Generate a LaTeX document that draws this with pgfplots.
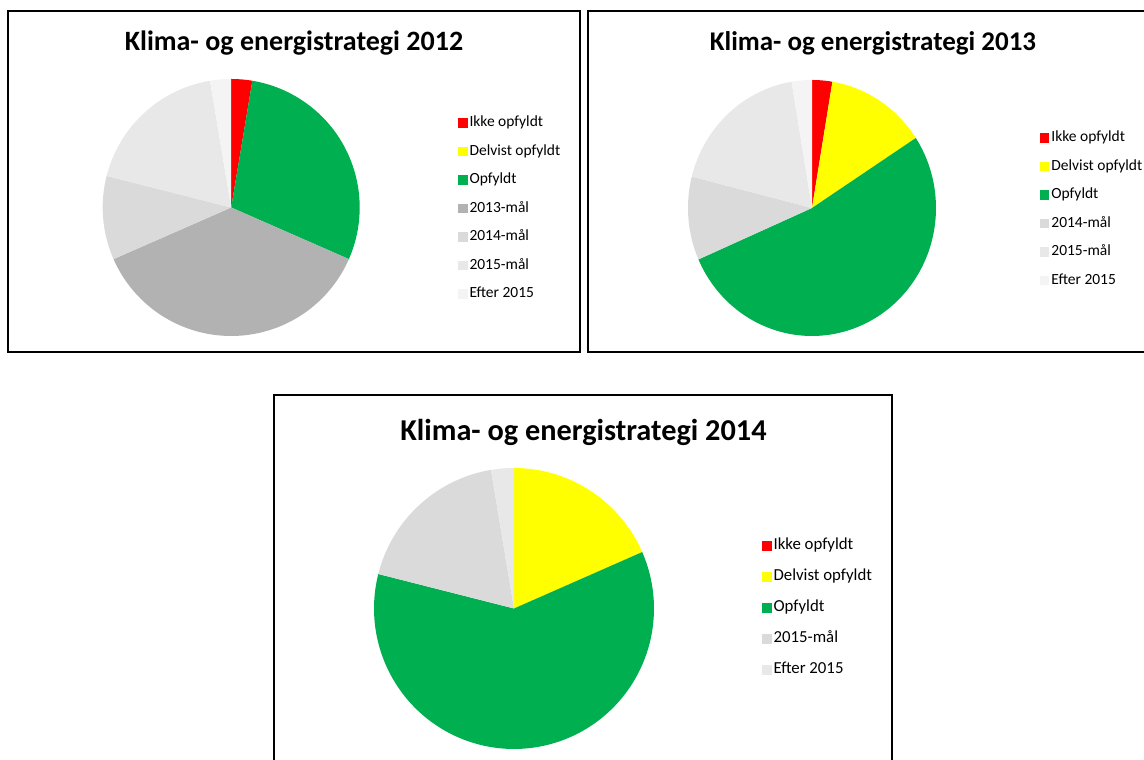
\documentclass[border=0pt]{standalone}
\usepackage{pgfplots}
\pgfplotsset{compat=1.18}
\usepackage{pgfplotstable}
\usepackage{fontspec}
\setmainfont{Carlito}

\definecolor{cRed}{HTML}{FF0000}
\definecolor{cYellow}{HTML}{FFFF00}
\definecolor{cGreen}{HTML}{00B050}
\definecolor{cGrayA}{HTML}{B2B2B2}
\definecolor{cGrayB}{HTML}{DADADA}
\definecolor{cGrayC}{HTML}{E8E8E8}
\definecolor{cGrayD}{HTML}{F4F4F4}

\pgfplotstableread{
label count
Ikke 1
Delvist 0
Opfyldt 11
M2013 14
M2014 4
M2015 7
Efter 1
}\dataA
\pgfplotstableread{
label count
Ikke 1
Delvist 5
Opfyldt 20
M2014 4
M2015 7
Efter 1
}\dataB
\pgfplotstableread{
label count
Ikke 0
Delvist 7
Opfyldt 23
M2015 7
Efter 1
}\dataC

\newcommand\piesum[1]{%
  \gdef\total{0}%
  \pgfplotstablegetrowsof{#1}\pgfmathtruncatemacro\nrows{\pgfplotsretval-1}%
  \foreach \r in {0,...,\nrows}{%
    \pgfplotstablegetelem{\r}{count}\of#1%
    \pgfmathsetmacro\tmp{\total+\pgfplotsretval}\global\let\total\tmp}%
  \gdef\cum{0}}

\newcommand\slice[4]{%
  \pgfplotstablegetelem{#2}{count}\of#1%
  \let\cnt\pgfplotsretval
  \pgfmathsetmacro\sA{360*\cum/\total}%
  \pgfmathsetmacro\newcum{\cum+\cnt}%
  \global\let\cum\newcum
  \pgfmathsetmacro\sB{360*\cum/\total}%
  \ifdim\cnt pt>0pt
    \edef\doslice{\noexpand\addplot[fill=#3, draw=none, domain=\sA:\sB, samples=120] ({sin(x)},{cos(x)}) -- (axis cs:0,0) -- cycle;}%
    \doslice
  \else
    \addlegendimage{fill=#3, draw=none}%
  \fi
  \addlegendentry{#4}}

\pgfplotsset{
  pie/.style={anchor=center, scale only axis, xmin=-1, xmax=1, ymin=-1, ymax=1,
    hide axis, clip=false,
    legend image code/.code={\fill[##1] (0pt,-4.5pt) rectangle (9.5pt,5pt);},
    legend cell align=left,
    legend style={draw=none, fill=none, inner sep=0pt, outer sep=0pt,
      anchor=west, column sep=2pt, row sep=13.5pt,
      font=\fontsize{15.5}{18}\selectfont,
      nodes={inner sep=0pt, text height=11pt, text depth=4pt}},
  }
}

\begin{document}
\begin{tikzpicture}[x=1pt,y=1pt]
\useasboundingbox (0,0) rectangle (1144,760);
\clip (0,0) rectangle (1144,760);
\draw[line width=2.5pt] (8,749) rectangle (580,408);
\draw[line width=2.5pt] (588,749) rectangle (1160,408);
\draw[line width=2.5pt] (274,365) rectangle (892,-20);

\node[font=\bfseries\fontsize{28}{34}\selectfont] at (294,717) {Klima- og energistrategi 2012};
\node[font=\bfseries\fontsize{27}{34}\selectfont] at (873,717) {Klima- og energistrategi 2013};
\node[font=\bfseries\fontsize{30.3}{36}\selectfont] at (583.5,328) {Klima- og energistrategi 2014};

\begin{axis}[pie, at={(231.2pt,552.5pt)}, width=257pt, height=257pt,
  legend style={at={(1.3825,0.495)}}]
\piesum{\dataA}
\slice{\dataA}{0}{cRed}{Ikke opfyldt}
\slice{\dataA}{1}{cYellow}{Delvist opfyldt}
\slice{\dataA}{2}{cGreen}{Opfyldt}
\slice{\dataA}{3}{cGrayA}{2013-mål}
\slice{\dataA}{4}{cGrayB}{2014-mål}
\slice{\dataA}{5}{cGrayC}{2015-mål}
\slice{\dataA}{6}{cGrayD}{Efter 2015}
\end{axis}

\begin{axis}[pie, at={(812pt,552pt)}, width=248pt, height=256pt,
  legend style={at={(1.419,0.495)}}]
\piesum{\dataB}
\slice{\dataB}{0}{cRed}{Ikke opfyldt}
\slice{\dataB}{1}{cYellow}{Delvist opfyldt}
\slice{\dataB}{2}{cGreen}{Opfyldt}
\slice{\dataB}{3}{cGrayB}{2014-mål}
\slice{\dataB}{4}{cGrayC}{2015-mål}
\slice{\dataB}{5}{cGrayD}{Efter 2015}
\end{axis}

\begin{axis}[pie, at={(514pt,151.5pt)}, width=280pt, height=281pt,
  legend style={at={(1.386,0.5)}, row sep=16pt, font=\fontsize{16.8}{19}\selectfont}]
\piesum{\dataC}
\slice{\dataC}{0}{cRed}{Ikke opfyldt}
\slice{\dataC}{1}{cYellow}{Delvist opfyldt}
\slice{\dataC}{2}{cGreen}{Opfyldt}
\slice{\dataC}{3}{cGrayB}{2015-mål}
\slice{\dataC}{4}{cGrayC}{Efter 2015}
\end{axis}
\end{tikzpicture}
\end{document}
